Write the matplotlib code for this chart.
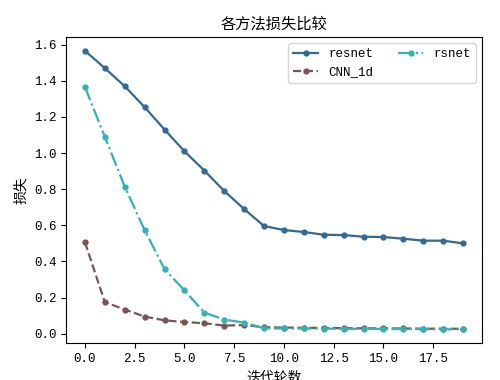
import matplotlib
matplotlib.use('Agg')
import matplotlib.pyplot as plt
import numpy as np

plt.rcParams['font.family'] = ['Liberation Mono', 'Noto Sans CJK SC']

# loss values per epoch
epochs = np.arange(20)
resnet = [1.566, 1.47, 1.37, 1.254, 1.13, 1.01, 0.903, 0.79, 0.69, 0.596,
          0.574, 0.563, 0.548, 0.546, 0.537, 0.535, 0.526, 0.515, 0.515, 0.50]
cnn_1d = [0.507, 0.175, 0.134, 0.095, 0.074, 0.065, 0.058, 0.045, 0.048, 0.036,
          0.034, 0.033, 0.032, 0.031, 0.030, 0.030, 0.029, 0.028, 0.028, 0.027]
rsnet = [1.366, 1.09, 0.814, 0.574, 0.357, 0.24, 0.117, 0.078, 0.062, 0.03,
         0.029, 0.029, 0.028, 0.027, 0.027, 0.026, 0.026, 0.025, 0.025, 0.025]

fig, ax = plt.subplots(figsize=(5, 3.8), dpi=100)
ax.plot(epochs, resnet, '-', marker='o', markersize=3.5, color='#2f6b96', linewidth=1.6, label='resnet')
ax.plot(epochs, cnn_1d, '--', marker='o', markersize=3.5, color='#7b5352', linewidth=1.6, label='CNN_1d')
ax.plot(epochs, rsnet, '-.', marker='o', markersize=3.5, color='#2fb4b6', linewidth=1.6, label='rsnet')

ax.set_title('各方法损失比较', fontsize=11)
ax.set_xlabel('迭代轮数', fontsize=10)
ax.set_ylabel('损失', fontsize=10)
ax.set_xticks(np.arange(0, 20, 2.5))
ax.set_yticks(np.arange(0, 1.61, 0.2))
ax.tick_params(labelsize=9)
ax.legend(ncol=2, loc='upper right', fontsize=9)

fig.subplots_adjust(left=0.132, right=0.964, top=0.903, bottom=0.097)
fig.savefig('out.png')
